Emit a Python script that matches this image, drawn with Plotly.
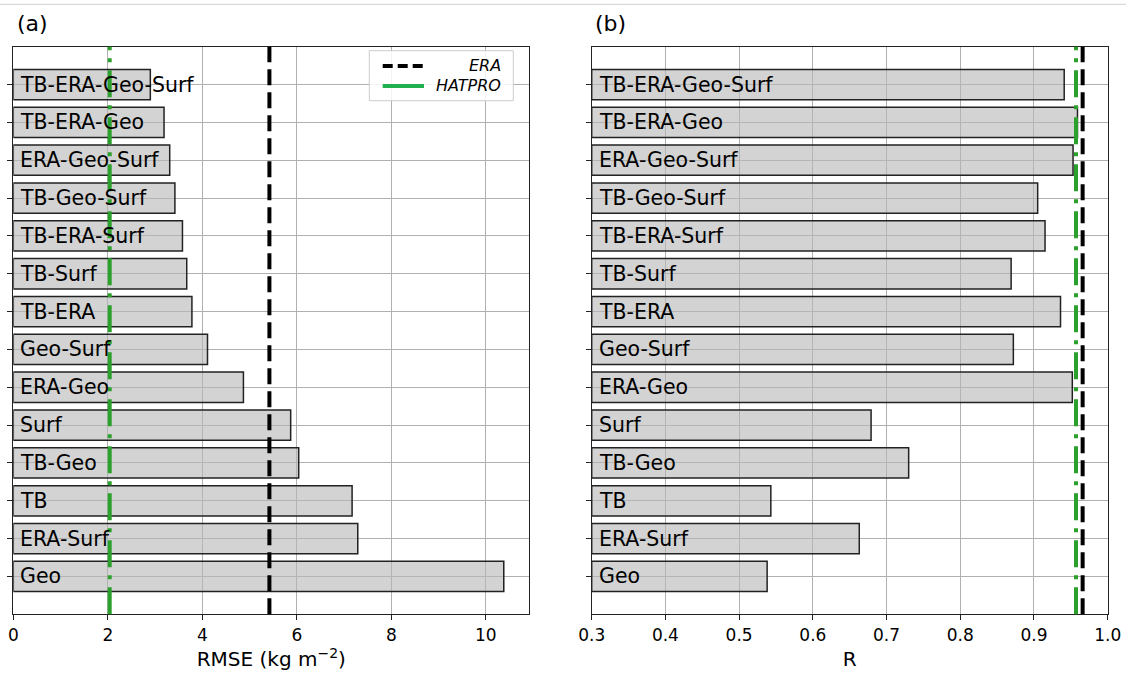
import plotly.graph_objects as go

# ---- data ----
labels = ["TB-ERA-Geo-Surf", "TB-ERA-Geo", "ERA-Geo-Surf", "TB-Geo-Surf", "TB-ERA-Surf",
          "TB-Surf", "TB-ERA", "Geo-Surf", "ERA-Geo", "Surf", "TB-Geo", "TB", "ERA-Surf", "Geo"]
rmse = [2.90, 3.19, 3.31, 3.42, 3.58, 3.67, 3.78, 4.11, 4.87, 5.87, 6.04, 7.17, 7.29, 10.38]
r_vals = [0.941, 0.959, 0.953, 0.905, 0.915, 0.869, 0.936, 0.872, 0.952, 0.679, 0.730, 0.543, 0.663, 0.538]
era_rmse, hatpro_rmse = 5.42, 2.04
era_r, hatpro_r = 0.966, 0.957
rmse_ticks = [0, 2, 4, 6, 8, 10]
r_ticks = [0.3, 0.4, 0.5, 0.6, 0.7, 0.8, 0.9, 1.0]
legend_names = ["ERA", "HATPRO"]

W, H = 1126, 676
FONT = "DejaVu Sans"
px = lambda v: v / W
py = lambda v: 1 - v / H

order = list(reversed(labels))  # bottom to top
bar_fill = "rgba(183,183,183,0.61)"
bar_line = dict(color="#222222", width=1.5)
grid = "#b0b0b0"
green = "#2ca02c"

fig = go.Figure()
fig.add_trace(go.Bar(x=rmse, y=labels, orientation="h", width=0.8,
                     marker=dict(color=bar_fill, line=bar_line),
                     xaxis="x", yaxis="y", showlegend=False, hoverinfo="x+y"))
fig.add_trace(go.Bar(x=[v - r_ticks[0] for v in r_vals], base=r_ticks[0], y=labels,
                     orientation="h", width=0.8,
                     marker=dict(color=bar_fill, line=bar_line),
                     xaxis="x2", yaxis="y2", showlegend=False, hoverinfo="y"))

xa_common = dict(showgrid=True, gridcolor=grid, gridwidth=1, zeroline=False,
                 showline=True, linecolor="#222222", linewidth=1.2, mirror=True,
                 ticks="outside", ticklen=5, tickcolor="#222222", automargin=False,
                 ticklabeloverflow="allow",
                 tickfont=dict(family=FONT, size=17, color="black"))
ya_common = dict(type="category", categoryorder="array", categoryarray=order,
                 range=[-1, len(labels)], showgrid=True, gridcolor=grid, gridwidth=1,
                 zeroline=False, showline=True, linecolor="#222222", linewidth=1.2,
                 mirror=True, ticks="outside", ticklen=5, tickcolor="#222222",
                 showticklabels=False, automargin=False)

fig.update_layout(
    width=W, height=H, margin=dict(l=0, r=0, t=0, b=0, pad=0), autosize=False,
    plot_bgcolor="white", paper_bgcolor="white",
    font=dict(family=FONT, color="black"),
    bargap=0.2,
    xaxis=dict(domain=[px(13.3), px(529.3)], range=[0, 10.92], tickvals=rmse_ticks,
               anchor="y",
               title=dict(text="RMSE (kg m<sup>−2</sup>)", font=dict(family=FONT, size=20),
                          standoff=8),
               **xa_common),
    yaxis=dict(domain=[py(614.3), py(46.7)], anchor="x", **ya_common),
    xaxis2=dict(domain=[px(591.7), px(1107.7)], range=[r_ticks[0], r_ticks[-1]],
                tickvals=r_ticks, tickformat=".1f", anchor="y2",
                title=dict(text="R", font=dict(family=FONT, size=20), standoff=8),
                **xa_common),
    yaxis2=dict(domain=[py(614.3), py(46.7)], anchor="x2", **ya_common),
)

# bar labels
for lab in labels:
    fig.add_annotation(x=0, y=lab, xref="x", yref="y", text=lab, showarrow=False,
                       xanchor="left", xshift=5, font=dict(family=FONT, size=20.5, color="black"))
    fig.add_annotation(x=r_ticks[0], y=lab, xref="x2", yref="y2", text=lab, showarrow=False,
                       xanchor="left", xshift=5, font=dict(family=FONT, size=20.5, color="black"))

# reference lines
era_line = dict(color="black", width=4, dash="16px,7px")
hat_line = dict(color=green, width=4, dash="27px,8px,4px,8px")
for xr, yr, era, hat in [("x", "y domain", era_rmse, hatpro_rmse), ("x2", "y2 domain", era_r, hatpro_r)]:
    fig.add_shape(type="line", xref=xr, yref=yr, x0=hat, x1=hat, y0=0, y1=1, line=hat_line, layer="above")
    fig.add_shape(type="line", xref=xr, yref=yr, x0=era, x1=era, y0=0, y1=1, line=era_line, layer="above")

# manual legend (panel a)
fig.add_shape(type="rect", xref="paper", yref="paper", x0=px(369.3), x1=px(513.3),
              y0=py(100.7), y1=py(50.7), fillcolor="rgba(255,255,255,0.85)",
              line=dict(color="#cccccc", width=1), layer="above")
fig.add_shape(type="line", xref="paper", yref="paper", x0=px(382.7), x1=px(424),
              y0=py(66), y1=py(66), line=dict(color="black", width=4, dash="10px,5px"), layer="above")
fig.add_shape(type="line", xref="paper", yref="paper", x0=px(382.7), x1=px(424),
              y0=py(86), y1=py(86), line=dict(color="#20b050", width=4), layer="above")
for name, yy in zip(legend_names, [66, 86]):
    fig.add_annotation(x=px(502.5), y=py(yy), xref="paper", yref="paper", text=f"<i>{name}</i>",
                       showarrow=False, xanchor="right", yanchor="middle",
                       font=dict(family=FONT, size=16, color="black"))

# panel letters
for letter, xx in [("(a)", 15), ("(b)", 593)]:
    fig.add_annotation(x=px(xx), y=py(23), xref="paper", yref="paper", text=letter,
                       showarrow=False, xanchor="left", yanchor="middle",
                       font=dict(family=FONT, size=22, color="black"))

# faint top border line seen in the reference
fig.add_shape(type="line", xref="paper", yref="paper", x0=0, x1=1, y0=py(4.3), y1=py(4.3),
              line=dict(color="#d0d0d0", width=1))

fig.write_html("out.html", config={"displayModeBar": False},
               post_script="document.body.style.margin='0';document.body.style.overflow='hidden';")
